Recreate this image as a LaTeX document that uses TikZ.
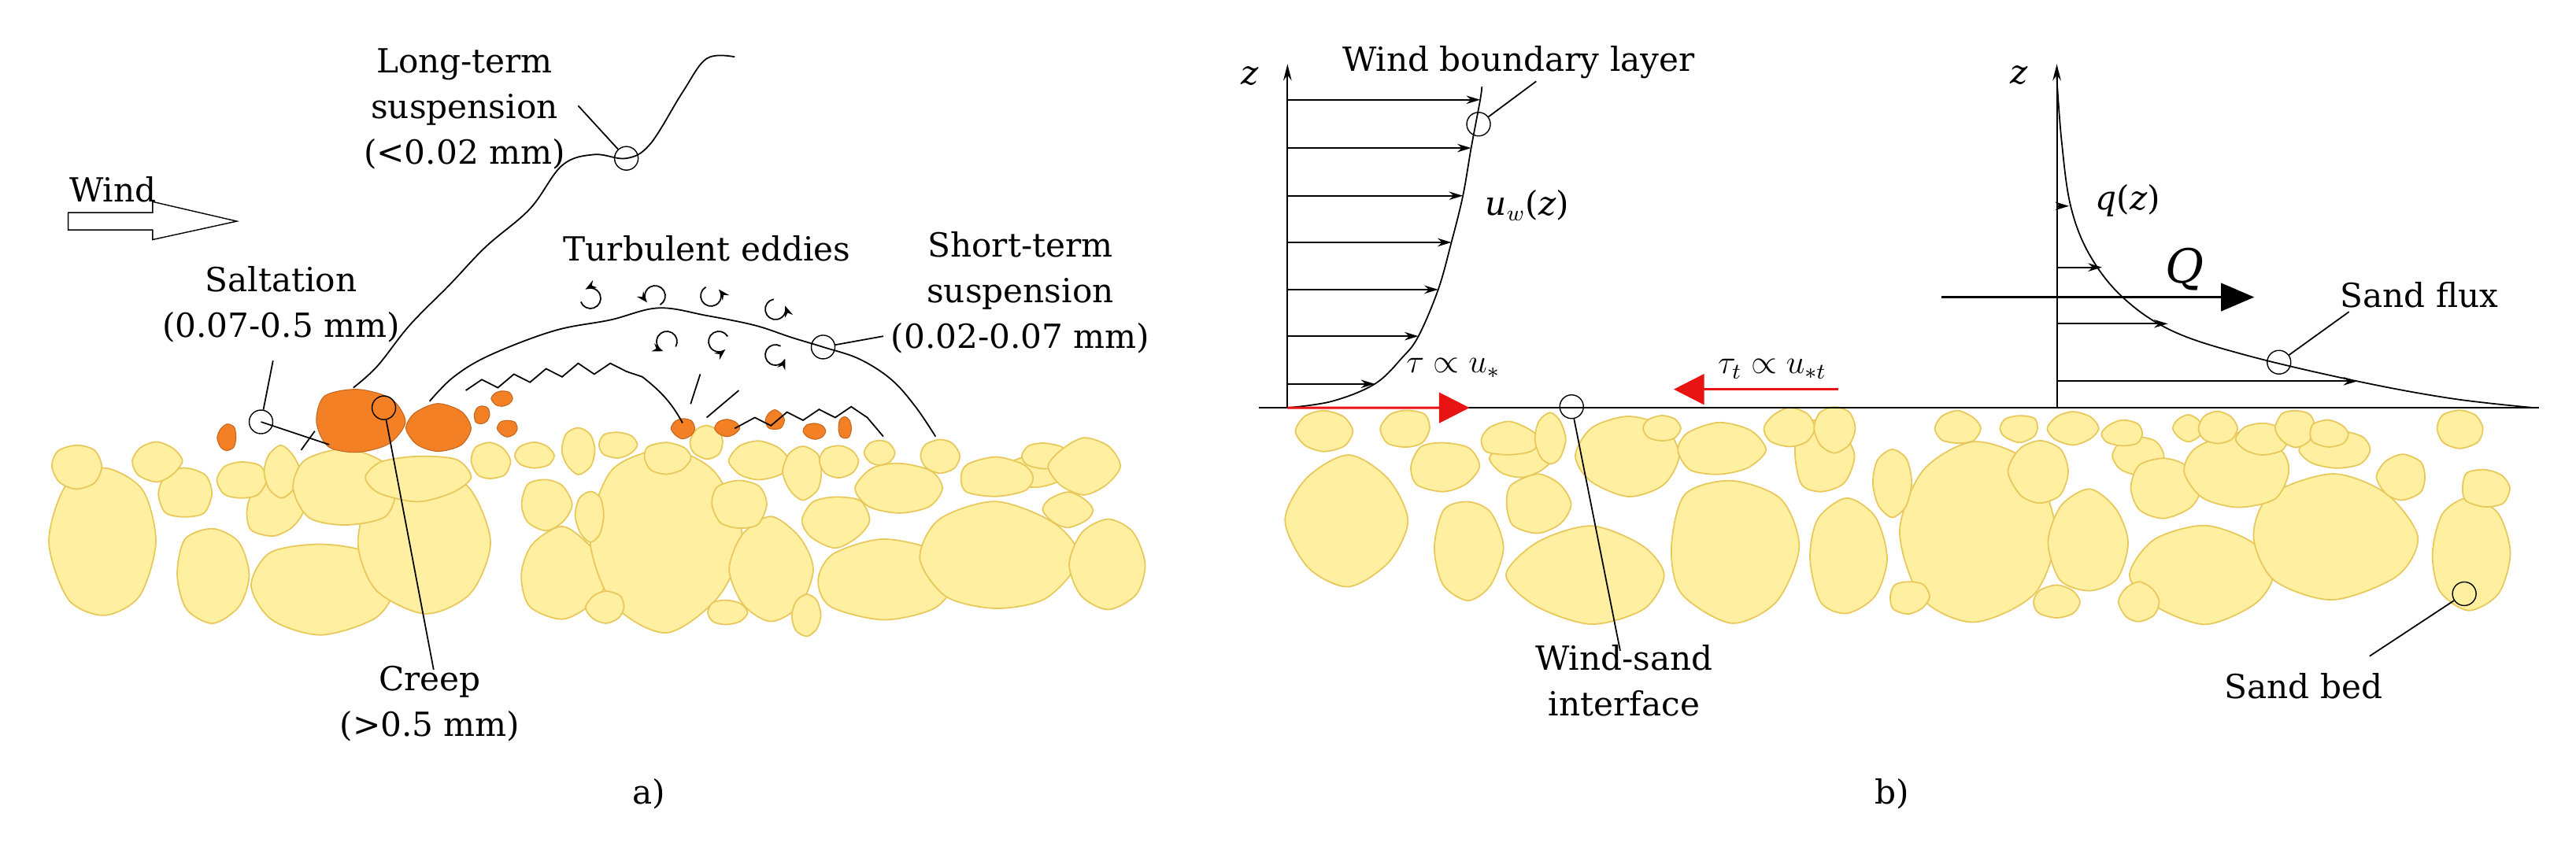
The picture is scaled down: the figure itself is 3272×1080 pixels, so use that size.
\documentclass[tikz,border=0pt]{standalone}
\usepackage{fontspec}
\setmainfont{DejaVu Serif}
\usepackage{tikz}
\usetikzlibrary{arrows.meta, positioning, calc}

\definecolor{sandfill}{RGB}{255,239,160}
\definecolor{sanddraw}{RGB}{232,200,90}
\definecolor{orangegrain}{RGB}{244,128,38}
\definecolor{tauRed}{RGB}{232,20,20}

\tikzset{
    lbl/.style={font=\fontsize{12}{16.5}\selectfont, align=center, inner sep=1pt},
    grain/.style={fill=sandfill, draw=sanddraw, line width=0.5pt},
    hot/.style={fill=orangegrain, draw=orangegrain!80!black, line width=0.3pt},
    ring/.style={circle, draw, thin, minimum size=0.3cm, inner sep=0pt},
    path/.style={black, line width=0.5pt},
    prof/.style={-{Stealth[length=5pt,width=3pt]}, line width=0.5pt},
    eddy/.style={-{Stealth[length=4pt,width=3pt]}, line width=0.5pt},
}

\newcommand{\sandbed}[1]{%
    \foreach \gx/\gy/\rx/\ry in {#1}
        \draw[grain] plot[smooth cycle, samples=8, domain=0:315, variable=\t]
            ({\gx+1.2*\rx*cos(\t)*(0.9+0.2*rnd)}, {\gy+1.2*\ry*sin(\t)*(0.9+0.2*rnd)});
}

\begin{document}
\begin{tikzpicture}[x=0.01cm, y=-0.01cm]
    \useasboundingbox (0,0) rectangle (3272,1080);
    \pgfmathsetseed{11}

    % ---------------- panel a) ----------------
    \begin{scope}[xscale=1.02, yscale=0.689]
        \sandbed{130/1000/55/120, 265/1060/40/75, 400/1080/80/70, 530/1000/70/115,
            700/1060/45/70, 830/990/75/140, 960/1050/40/75, 1100/1070/75/60,
            1240/1030/80/85, 1380/1040/40/70, 230/910/30/40, 340/940/30/40,
            680/930/25/40, 735/950/15/40, 920/930/30/40, 1040/960/35/40,
            1120/900/45/40, 1330/940/25/25, 1290/870/30/25,
            95/860/25/35, 195/850/25/30, 300/885/25/30, 350/870/18/40,
            430/900/55/60, 520/880/55/35, 610/850/20/30, 665/840/20/20,
            720/830/18/35, 770/820/20/20, 830/845/25/25, 880/815/18/25,
            945/850/30/30, 1000/870/20/40, 1045/850/20/25, 1095/835/15/20,
            1170/840/20/25, 1240/880/40/30, 1300/840/25/20, 1350/860/35/40,
            755/1120/20/25, 905/1130/20/20, 1005/1135/15/30}
        % saltating / creeping grains
        \foreach \gx/\gy/\rx/\ry in {445/778/55/62, 545/790/38/45, 283/808/12/25,
            600/765/10/18, 625/735/12/15, 632/790/12/15, 850/790/14/18,
            905/790/15/15, 965/775/12/18, 1015/795/14/15, 1052/790/8/20}
            \draw[hot] plot[smooth cycle, samples=8, domain=0:315, variable=\t]
                ({\gx+\rx*cos(\t)*(0.88+0.24*rnd)}, {\gy+\ry*sin(\t)*(0.88+0.24*rnd)});

        % particle paths
        \draw[path] plot[smooth, tension=0.6] coordinates {(440,715) (470,675) (510,600)
            (560,525) (605,455) (660,385) (700,305) (740,285) (780,292) (810,265)
            (850,170) (880,108) (915,105)};
        \draw[path] plot[smooth, tension=0.6] coordinates {(535,740) (565,695) (610,655)
            (690,610) (760,590) (820,568) (880,582) (940,600) (985,622) (1025,640)
            (1070,662) (1110,700) (1140,750) (1165,805)};
        \draw[path] (580,720) -- (600,700) -- (620,715) -- (640,690) -- (660,705)
            -- (680,680) -- (700,695) -- (720,670) -- (740,690) -- (760,670)
            -- (780,685) -- (800,695) to[bend left=10] (850,780);
        \draw[path] (860,745) -- (872,690);
        \draw[path] (880,770) -- (920,720);
        \draw[path] (915,790) -- (940,770) -- (960,785) -- (980,760) -- (1000,775)
            -- (1020,755) -- (1040,770) -- (1060,750) -- (1080,770) -- (1100,805);
        \draw[path] (325,778) -- (410,820);
        \draw[path] (375,830) -- (392,795);

        % wind arrow
        \draw[thin, fill=white] (85,392) -- (190,392) -- (190,372) -- (295,408)
            -- (190,442) -- (190,424) -- (85,424) -- cycle;

        \node[ring] (ringLT) at (780,292) {};
        \node[ring] (ringSalt) at (325,778) {};
        \node[ring] (ringCreep) at (478,752) {};
        \node[ring] (ringST) at (1025,640) {};
        \coordinate (tipLT) at (720,195);
        \coordinate (tipSalt) at (340,665);
        \coordinate (tipCreep) at (540,1235);
        \coordinate (tipST) at (1100,620);
    \end{scope}

    \node[lbl] (longTerm) at (590,138) {Long-term\\suspension\\(<0.02 mm)};
    \node[lbl, anchor=west] (wind) at (84,241) {Wind};
    \node[lbl] (saltation) at (357,387) {Saltation\\(0.07-0.5 mm)};
    \node[lbl] (creep) at (546,894) {Creep\\(>0.5 mm)};
    \node[lbl] (eddies) at (898,316) {Turbulent eddies};
    \node[lbl] (shortTerm) at (1296,372) {Short-term\\suspension\\(0.02-0.07 mm)};
    \node[lbl] (capA) at (824,1009) {a)};

    \draw[path] (ringLT) -- (tipLT);
    \draw[path] (ringSalt) -- (tipSalt);
    \draw[path] (ringCreep) -- (tipCreep);
    \draw[path] (ringST) -- (tipST);

    % turbulent eddies
    \foreach \ex/\ey/\sa in {750/379/200, 832/376/-60, 903/376/120, 985/393/100,
        847/434/-30, 913/434/30, 985/451/60}
        \draw[eddy] ($(\ex,\ey)+(\sa:0.13cm)$) arc[start angle=\sa, delta angle=280, radius=0.13cm];

    % ---------------- panel b) ----------------
    \begin{scope}[shift={(1650,0)}, xscale=1.046, yscale=0.689]
        \sandbed{60/960/60/100, 205/1010/35/75, 355/1060/80/70, 525/1010/65/110,
            665/1030/40/90, 820/980/80/140, 960/1000/40/80, 1100/1060/70/70,
            1255/990/85/90, 1420/1020/40/90,
            175/860/35/40, 270/845/30/30, 290/930/35/45, 400/840/50/60,
            510/830/45/40, 635/840/30/60, 720/890/20/50, 900/870/30/50,
            1020/840/25/30, 1050/900/35/45, 1140/870/55/55, 1260/830/35/30,
            1340/880/25/35, 1440/900/25/30,
            30/795/30/30, 130/790/25/30, 255/810/30/25, 305/810/15/40,
            440/790/20/20, 595/790/25/30, 650/790/20/35, 800/790/25/25,
            875/790/20/20, 940/790/25/25, 1000/800/20/20, 1080/790/15/20,
            1115/790/20/25, 1170/810/25/25, 1210/790/20/30, 1250/800/20/20,
            1410/790/25/30, 740/1100/20/25, 920/1110/25/25, 1020/1110/20/30}

        \coordinate (groundL) at (-49,752);
        \coordinate (groundR) at (1505,752);
        \coordinate (axisL) at (-14,752);
        \coordinate (axisLtop) at (-14,118);
        \coordinate (axisR) at (920,752);
        \coordinate (axisRtop) at (920,118);
        \draw[line width=0.6pt] (groundL) -- (groundR);
        \draw[-{Stealth[length=6pt,width=3pt]}, line width=0.6pt] (axisL) -- (axisLtop);
        \draw[-{Stealth[length=6pt,width=3pt]}, line width=0.6pt] (axisR) -- (axisRtop);

        % wind profile
        \foreach \py/\px in {184/220, 273/209, 361/199, 447/185, 534/169, 620/145, 708/92}
            \draw[prof] (-14,\py) -- (\px,\py);
        \draw[path] plot[smooth, tension=0.6] coordinates {(-14,752) (40,740) (92,708)
            (125,660) (145,620) (169,534) (185,447) (199,361) (209,273) (220,184) (222,160)};

        % sand flux profile
        \foreach \py/\px in {380/935, 493/975, 597/1055, 703/1285}
            \draw[prof] (920,\py) -- (\px,\py);
        \draw[path] plot[smooth, tension=0.6] coordinates {(920,140) (926,260) (937,380)
            (960,470) (1000,548) (1060,610) (1150,655) (1285,703) (1400,735) (1500,752)};
        \draw[-{Triangle[length=12pt,width=10pt]}, line width=1pt] (780,548) -- (1160,548);

        % shear stress arrows
        \draw[-{Triangle[length=11pt,width=11pt]}, tauRed, line width=0.8pt] (axisL) -- (207,752);
        \draw[-{Triangle[length=11pt,width=11pt]}, tauRed, line width=0.8pt] (655,718) -- (455,718);

        \node[ring] (ringWBL) at (218,229) {};
        \node[ring] (ringWSI) at (331,750) {};
        \node[ring] (ringFlux) at (1190,668) {};
        \node[ring] (ringBed) at (1415,1095) {};
        \coordinate (tipWBL) at (288,150);
        \coordinate (tipWSI) at (390,1200);
        \coordinate (tipFlux) at (1275,575);
        \coordinate (tipBed) at (1300,1210);
    \end{scope}

    \node[lbl] (zLeft) at (1588,97) {\textit{z}};
    \node[lbl] (wbl) at (1929,79) {Wind boundary layer};
    \node[lbl] (uw) at (1940,261) {\textit{u}$_{w}$(\textit{z})};
    \node[lbl] (tau) at (1846,468) {$\tau\propto u_{*}$};
    \node[lbl] (tauT) at (2251,469) {$\tau_{t}\propto u_{*t}$};
    \node[lbl] (zRight) at (2565,96) {\textit{z}};
    \node[lbl] (qz) at (2703,255) {\textit{q}(\textit{z})};
    \node[lbl, font=\fontsize{17}{20}\selectfont\itshape] (fluxQ) at (2775,342) {Q};
    \node[lbl] (sandFlux) at (3073,375) {Sand flux};
    \node[lbl] (interface) at (2063,865) {Wind-sand\\interface};
    \node[lbl] (sandBed) at (2926,872) {Sand bed};
    \node[lbl] (capB) at (2403,1009) {b)};

    \draw[path] (ringWBL) -- (tipWBL);
    \draw[path] (ringWSI) -- (tipWSI);
    \draw[path] (ringFlux) -- (tipFlux);
    \draw[path] (ringBed) -- (tipBed);
\end{tikzpicture}
\end{document}
